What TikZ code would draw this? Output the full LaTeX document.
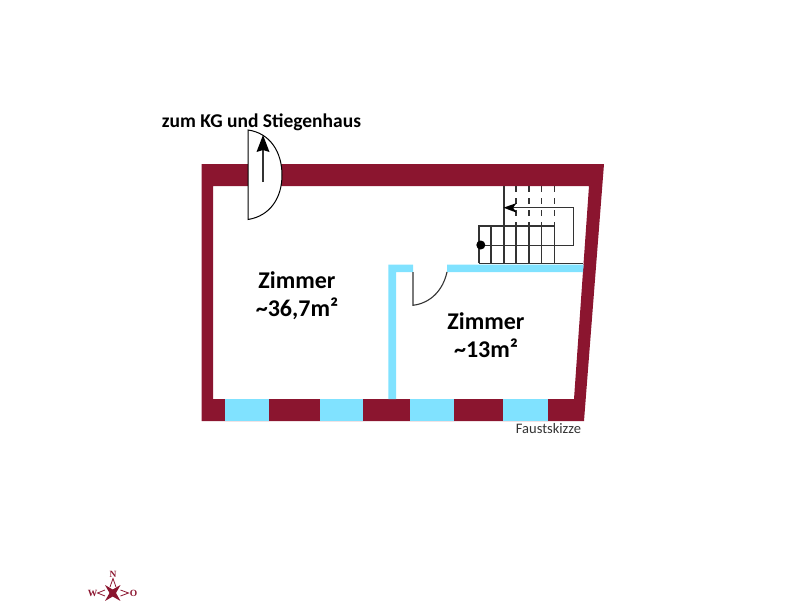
\documentclass[tikz,border=0pt]{standalone}
\usepackage{fontspec}
\setmainfont{Carlito}
\newfontfamily\compassfont{Liberation Serif}
\definecolor{wallred}{HTML}{8B152F}
\definecolor{wallblue}{HTML}{80E2FF}
\definecolor{inkline}{HTML}{333333}
\tikzset{
  wall/.style={fill=wallred,draw=none},
  glass/.style={fill=wallblue,draw=none},
  thin line/.style={draw=inkline,line width=1.1pt},
  stair/.style={draw=inkline,line width=1.1pt},
  stairdash/.style={stair,dash pattern=on 6pt off 6pt},
  head/.style={fill=black,draw=none},
  roomlabel/.style={font=\fontsize{24}{28.5}\selectfont\bfseries,align=center,text=black,inner sep=0pt},
  compasstext/.style={font=\compassfont\bfseries\fontsize{9.5}{9.5}\selectfont,text=wallred,inner sep=0pt}
}
\begin{document}
\begin{tikzpicture}[x=1pt,y=-1pt]
\useasboundingbox (0,0) rectangle (800,600);
\clip (0,0) rectangle (800,600);
% outer wall
\path[wall,even odd rule] (201.5,164) -- (604,164) -- (584,421) -- (201.5,421) -- cycle
  (213,186) -- (589,186) -- (574,399) -- (213,399) -- cycle;
% windows
\foreach \a/\b in {225/269,320.3/362.7,410/454,503/548}
  \path[glass] (\a,399) rectangle (\b,421);
% inner walls
\path[glass] (388.3,264.5) -- (413,264.5) -- (413,272) -- (396,272) -- (396,399) -- (388.3,399) -- cycle;
\path[glass] (447,264.5) -- (583.6,264.5) -- (583,272) -- (447,272) -- cycle;
% entrance door
\path[fill=white,draw=black,line width=1pt] (248,130) .. controls (270,133) and (282,152) .. (282,175)
  .. controls (282,198) and (270,216) .. (248,219.5) -- cycle;
\draw[inkline,line width=1.4pt] (263,182) -- (263,150);
\path[head] (263,135) -- (269.5,152) -- (263,150) -- (256.5,152) -- cycle;
% inner door
\draw[thin line] (413,272) -- (413,305.3) .. controls (431,303) and (443,290) .. (447,272);
% stairs
\draw[stair] (504,186) -- (504,263.3);
\foreach \x in {516,529,541.7,554.7}{
  \draw[stairdash] (\x,186) -- (\x,226);
  \draw[stair] (\x,226) -- (\x,263.3);
}
\draw[stair] (491,226) -- (491,263.3);
\draw[stair] (479,263.3) -- (479,226) -- (554.7,226);
\draw[stair] (479,263.3) -- (583,263.3);
\draw[stair] (479,245.3) -- (573.3,245.3) -- (573.3,207.7) -- (510,207.7);
\path[head] (503.5,207.7) -- (516.7,203) -- (513,207.7) -- (516.7,212.7) -- cycle;
\path[fill=black] (480.8,245) circle (4.5);
% labels
\node[font=\fontsize{19.5}{22}\selectfont\bfseries,inner sep=0pt,anchor=center] (stairlabel) at (261.5,122) {zum KG und Stiegenhaus};
\node[roomlabel] (roomA) at (297,295.5) {Zimmer\\\textasciitilde36,7m²};
\node[roomlabel] (roomB) at (486,335) {Zimmer\\\textasciitilde13m²};
\node[font=\fontsize{14.5}{16}\selectfont,text=inkline,inner sep=0pt] (sketch) at (548.5,428.5) {Faustskizze};
% compass
\node[compasstext] (compN) at (113,574.5) {N};
\node[compasstext] (compW) at (92.5,593) {W};
\node[compasstext] (compO) at (133.5,593) {O};
\path[fill=wallred] (105,585) -- (112.7,589.5) -- (120.5,585) -- (116,593) -- (120.5,601) -- (112.7,596.5) -- (105,601) -- (109.5,593) -- cycle;
\draw[wallred,line width=0.8pt] (110,587) -- (113,578.5) -- (116,587);
\draw[wallred,line width=0.8pt] (105,590) -- (97.5,593) -- (105,596);
\draw[wallred,line width=0.8pt] (120.5,590) -- (128.5,593) -- (120.5,596);
\end{tikzpicture}
\end{document}
